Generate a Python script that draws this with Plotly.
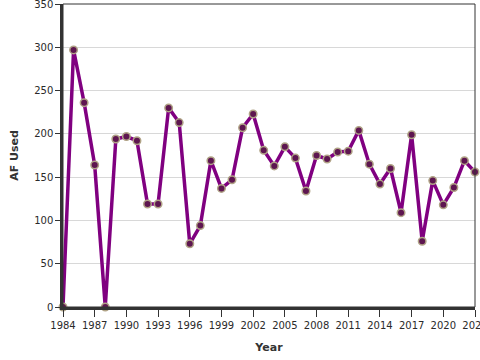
import plotly.graph_objects as go

years = list(range(1984, 2024))
af_used = [0, 297, 236, 164, 0, 194, 197, 192, 119, 119,
           230, 213, 73, 94, 169, 137, 147, 207, 223, 181,
           163, 185, 172, 134, 175, 171, 179, 180, 204, 165,
           142, 160, 109, 199, 76, 146, 118, 138, 169, 156]
x_ticks = list(range(1984, 2024, 3))
y_ticks = list(range(0, 351, 50))

fig = go.Figure()
fig.add_trace(go.Scatter(
    x=years, y=af_used, mode="lines+markers",
    line=dict(color="#800080", width=3.5),
    marker=dict(size=7.5, color="#5e1650", line=dict(color="#b0a386", width=1.5)),
    cliponaxis=False, showlegend=False,
))

font = "DejaVu Sans, Verdana, sans-serif"
fig.update_layout(
    width=480, height=360,
    margin=dict(l=63, r=5, t=4, b=53, autoexpand=False),
    paper_bgcolor="white", plot_bgcolor="white",
    font=dict(family=font, size=10, color="#2a2a2a"),
    shapes=[dict(type="rect", xref="paper", yref="paper", x0=0, y0=0, x1=1, y1=1,
                 line=dict(color="#333", width=1), layer="above")],
)
fig.update_xaxes(
    range=[1984, 2023], tickvals=x_ticks, ticktext=[str(v) for v in x_ticks],
    automargin=False, ticklabeloverflow="allow",
    showgrid=False, zeroline=False, showline=True, linecolor="#333", linewidth=2.5,
    ticks="outside", ticklen=7, tickcolor="#333", tickwidth=1,
    title=dict(text="<b>Year</b>", font=dict(size=11, family=font, color="#333"), standoff=14),
)
fig.update_yaxes(
    range=[0, 350], tickvals=y_ticks, automargin=False, ticklabeloverflow="allow",
    showgrid=True, gridcolor="#d8d8d8", gridwidth=1, zeroline=False,
    showline=True, linecolor="#333", linewidth=2.5,
    ticks="outside", ticklen=5, tickcolor="#333", tickwidth=1,
    title=dict(text="<b>AF Used</b>", font=dict(size=11, family=font, color="#333"), standoff=14),
)

fig.write_html("out.html", config={"displayModeBar": False},
               post_script="document.body.style.margin='0';")
